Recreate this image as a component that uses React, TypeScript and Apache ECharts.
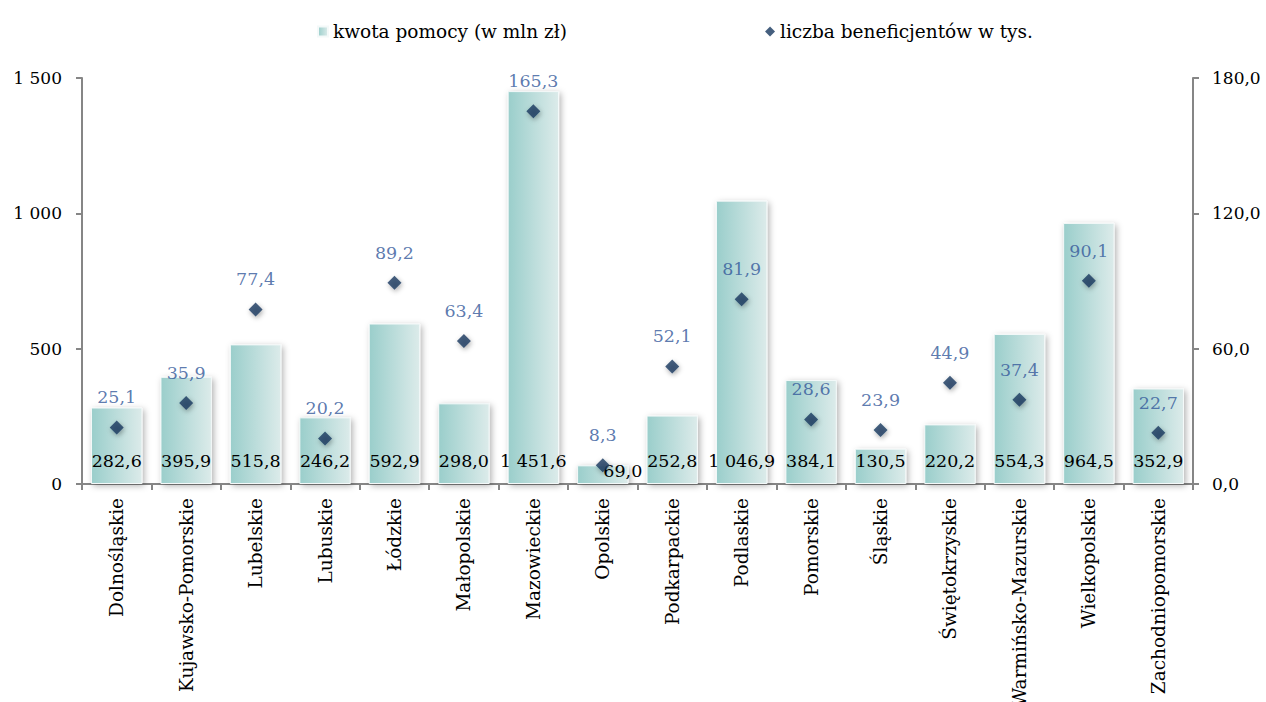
import React, { useEffect, useRef } from "react";
import * as echarts from "echarts";

const categories = [
  "Dolnośląskie", "Kujawsko-Pomorskie", "Lubelskie", "Lubuskie", "Łódzkie", "Małopolskie",
  "Mazowieckie", "Opolskie", "Podkarpackie", "Podlaskie", "Pomorskie", "Śląskie",
  "Świętokrzyskie", "Warmińsko-Mazurskie", "Wielkopolskie", "Zachodniopomorskie",
];
const kwotaPomocy = [282.6, 395.9, 515.8, 246.2, 592.9, 298.0, 1451.6, 69.0, 252.8, 1046.9, 384.1, 130.5, 220.2, 554.3, 964.5, 352.9];
const liczbaBeneficjentow = [25.1, 35.9, 77.4, 20.2, 89.2, 63.4, 165.3, 8.3, 52.1, 81.9, 28.6, 23.9, 44.9, 37.4, 90.1, 22.7];
const seriesNames = ["kwota pomocy (w mln zł)", "liczba beneficjentów w tys."];

const FONT = "DejaVu Serif";

const fmtPL = (v: number, dec: number) => {
  const s = v.toFixed(dec);
  const [i, d] = s.split(".");
  const ii = i.replace(/\B(?=(\d{3})+(?!\d))/g, " ");
  return d !== undefined ? ii + "," + d : ii;
};

export default function App() {
  const ref = useRef<HTMLDivElement>(null);
  useEffect(() => {
    if (!ref.current) return;
    const chart = echarts.init(ref.current, null, { renderer: "svg" });
    const barGrad = new echarts.graphic.LinearGradient(0, 0, 1, 0, [
      { offset: 0, color: "#9acecb" },
      { offset: 1, color: "#dcebea" },
    ]);
    const barData = kwotaPomocy.map((v, i) =>
      categories[i] === "Opolskie"
        ? { value: v, label: { distance: 4, offset: [20, 0] } }
        : v
    );
    const axisLineStyle = { color: "#868686", width: 2 };
    chart.setOption({
      animation: false,
      textStyle: { fontFamily: FONT },
      legend: {
        top: 17,
        left: 312,
        itemGap: 198,
        itemWidth: 10,
        itemHeight: 10,
        textStyle: { fontFamily: FONT, fontSize: 18.5, color: "#000" },
        data: [
          { name: seriesNames[0], icon: "rect", itemStyle: { color: barGrad } },
          { name: seriesNames[1], icon: "diamond" },
        ],
      },
      grid: {
        left: 82,
        right: 73,
        top: 78,
        bottom: 218,
        containLabel: false,
        outerBoundsMode: "none",
      },
      xAxis: {
        type: "category",
        data: categories,
        axisLine: { lineStyle: axisLineStyle },
        axisTick: { show: true, length: 6, lineStyle: axisLineStyle },
        axisLabel: {
          rotate: 90,
          interval: 0,
          margin: 14,
          fontFamily: FONT,
          fontSize: 18.5,
          color: "#000",
        },
      },
      yAxis: [
        {
          type: "value",
          min: 0,
          max: 1500,
          interval: 500,
          splitLine: { show: false },
          axisLine: { show: true, lineStyle: axisLineStyle },
          axisTick: { show: true, length: 6, lineStyle: axisLineStyle },
          axisLabel: {
            fontFamily: FONT,
            fontSize: 17,
            color: "#000",
            margin: 20,
            formatter: (v: number) => fmtPL(v, 0),
          },
        },
        {
          type: "value",
          min: 0,
          max: 180,
          interval: 60,
          splitLine: { show: false },
          axisLine: { show: true, lineStyle: axisLineStyle },
          axisTick: { show: true, length: 6, lineStyle: axisLineStyle },
          axisLabel: {
            fontFamily: FONT,
            fontSize: 17,
            color: "#000",
            margin: 19,
            formatter: (v: number) => fmtPL(v, 1),
          },
        },
      ],
      series: [
        {
          name: seriesNames[0],
          type: "bar",
          yAxisIndex: 0,
          barWidth: "74%",
          data: barData,
          itemStyle: {
            color: barGrad,
            borderColor: "#f4f9f9",
            borderWidth: 1,
            shadowBlur: 6,
            shadowColor: "rgba(0,0,0,0.3)",
            shadowOffsetX: 2,
            shadowOffsetY: 2,
          },
          label: {
            show: true,
            position: "insideBottom",
            distance: 14,
            fontFamily: FONT,
            fontSize: 17.5,
            color: "#000",
            formatter: (p: any) => fmtPL(p.value, 1),
          },
          z: 2,
        },
        {
          name: seriesNames[1],
          type: "scatter",
          yAxisIndex: 1,
          symbol: "diamond",
          symbolSize: 14,
          data: liczbaBeneficjentow,
          itemStyle: {
            color: "#17375e",
            shadowBlur: 5,
            shadowColor: "rgba(0,0,0,0.4)",
            shadowOffsetX: 1,
            shadowOffsetY: 2,
          },
          label: {
            show: true,
            position: "top",
            distance: 14,
            fontFamily: FONT,
            fontSize: 17.5,
            color: "#33589a",
            formatter: (p: any) => fmtPL(p.value, 1),
          },
          z: 3,
        },
      ],
    });
    return () => chart.dispose();
  }, []);
  return <div ref={ref} style={{ width: 1266, height: 702, position: "absolute", left: 0, top: 0 }} />;
}
